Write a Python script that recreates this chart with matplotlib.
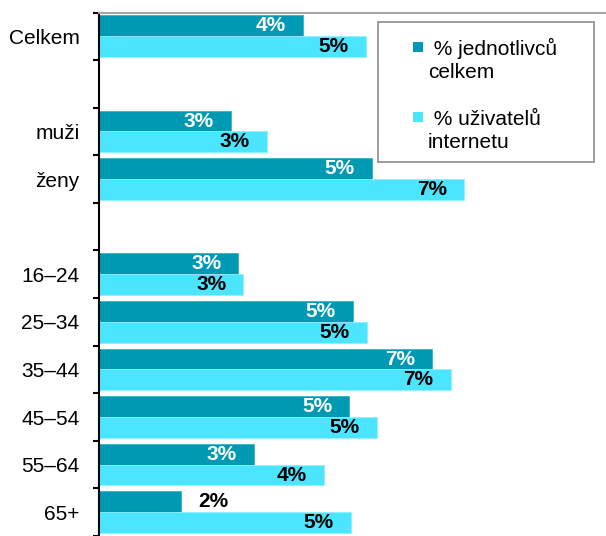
import numpy as np
import matplotlib.pyplot as plt
from matplotlib.patches import Rectangle

plt.rcParams['font.family'] = ['Liberation Sans', 'DejaVu Sans']

# categories (blank strings are spacer rows)
categories = ["Celkem", "", "muži", "ženy", "", "16–24", "25–34", "35–44", "45–54", "55–64", "65+"]
pct_all = [4.02, None, 2.60, 5.38, None, 2.75, 5.00, 6.57, 4.94, 3.06, 1.62]
pct_internet = [5.26, None, 3.32, 7.20, None, 2.85, 5.29, 6.94, 5.48, 4.44, 4.97]
series_names = [" % jednotlivců\ncelkem", " % uživatelů\ninternetu"]

dark = "#0099b3"
light = "#4ce5ff"

W, H = 606, 536
fig = plt.figure(figsize=(W / 100, H / 100), dpi=100)
ax = fig.add_axes([99 / W, 0, 1 - 99 / W, 1 - 12.5 / H])

bh = 0.4375
for i, (a, b) in enumerate(zip(pct_all, pct_internet)):
    if a is None:
        continue
    ax.barh(i + 0.0625 + bh / 2, a, height=bh, color=dark, edgecolor="#33b5c8", linewidth=0.6)
    ax.barh(i + 0.5 + bh / 2, b, height=bh, color=light, edgecolor="#8ff0ff", linewidth=0.6)
    lab = f"{round(a):.0f}%"
    if a < 2:
        ax.text(a + 0.33, i + 0.0625 + bh / 2, lab, ha="left", va="center",
                color="black", fontsize=15, fontweight="bold")
    else:
        ax.text(a - 0.34, i + 0.0625 + bh / 2, lab, ha="right", va="center",
                color="white", fontsize=15, fontweight="bold")
    ax.text(b - 0.34, i + 0.5 + bh / 2, f"{round(b):.0f}%", ha="right", va="center",
            color="black", fontsize=15, fontweight="bold")

ax.set_xlim(0, 10)
ax.set_ylim((H - 12.5) / 48, 0)

ax.set_yticks(np.arange(len(categories)) + 0.5)
ax.set_yticklabels(categories, fontsize=15)
ax.set_yticks(np.arange(len(categories) + 1), minor=True)
ax.tick_params(axis="y", which="major", length=0, pad=14)
ax.tick_params(axis="y", which="minor", length=4.5, width=1.5, color="black")
ax.set_xticks([])

for s in ["right", "bottom"]:
    ax.spines[s].set_visible(False)
ax.spines["left"].set_linewidth(1.5)
ax.spines["left"].set_color("black")
ax.spines["top"].set_color("#a6a6a6")
ax.spines["top"].set_linewidth(1.5)

# legend box drawn by hand
def fx(x):
    return x / W

def fy(y):
    return 1 - y / H

fig.patches.append(Rectangle((fx(378), fy(162)), fx(594) - fx(378), fy(22) - fy(162),
                             transform=fig.transFigure, facecolor="white",
                             edgecolor="#8c8c8c", linewidth=1.2))
for k, (name, col) in enumerate(zip(series_names, [dark, light])):
    y0 = 42 + k * 70
    fig.patches.append(Rectangle((fx(413), fy(y0 + 10)), fx(10), 10 / H,
                                 transform=fig.transFigure, facecolor=col, edgecolor="none"))
    # va="baseline" puts the last line's baseline here
    fig.text(fx(428), fy(y0 + 36), name, ha="left", va="baseline", fontsize=15, linespacing=1.27)

fig.savefig("out.png", dpi=100)
